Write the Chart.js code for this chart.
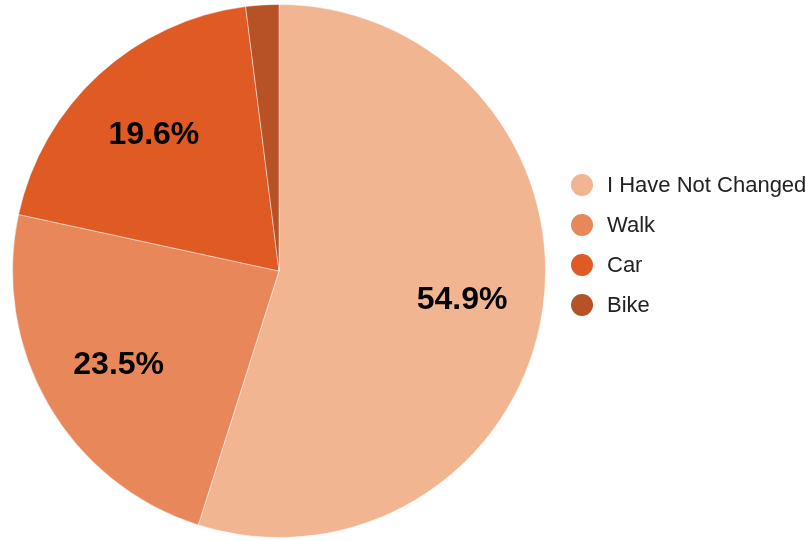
<!DOCTYPE html>
<html>
<head>
<meta charset="utf-8">
<title>Travel mode change</title>
<script src="https://cdn.jsdelivr.net/npm/chart.js@4.4.1/dist/chart.umd.min.js"></script>
<style>
  html, body { margin: 0; padding: 0; background: #ffffff; }
  #wrap { width: 806px; height: 541px; position: relative; }
</style>
</head>
<body>
<div id="wrap"><canvas id="chart" width="806" height="541"></canvas></div>
<script>
// Responses: how people changed the way they travel
const categories = ['I Have Not Changed', 'Walk', 'Car', 'Bike'];
const shares = [54.9, 23.5, 19.6, 2.0];
const sliceColors = ['#F2B592', '#E8885A', '#E05A24', '#B65226'];
// Slices smaller than this don't get a value label
const minLabelShare = 5;

// Percentage labels drawn inside each slice
const sliceLabels = {
  id: 'sliceLabels',
  afterDatasetsDraw(chart) {
    const { ctx } = chart;
    const meta = chart.getDatasetMeta(0);
    const values = chart.data.datasets[0].data;
    ctx.save();
    ctx.font = 'bold 32px "Liberation Sans", Arial, sans-serif';
    ctx.fillStyle = '#000000';
    ctx.textAlign = 'center';
    ctx.textBaseline = 'middle';
    meta.data.forEach((arc, i) => {
      if (values[i] < minLabelShare) return;
      const p = arc.getProps(['x', 'y', 'startAngle', 'endAngle', 'outerRadius'], true);
      const mid = (p.startAngle + p.endAngle) / 2;
      const r = p.outerRadius * 0.695;
      ctx.fillText(values[i].toFixed(1) + '%', p.x + Math.cos(mid) * r, p.y + Math.sin(mid) * r + 1);
    });
    ctx.restore();
  }
};

// Legend on the right: round swatches with category names
const sideLegend = {
  id: 'sideLegend',
  afterDraw(chart) {
    const { ctx } = chart;
    const x0 = 582, y0 = 185, step = 40, rad = 11;
    ctx.save();
    ctx.font = '22px "Liberation Sans", Arial, sans-serif';
    ctx.textAlign = 'left';
    ctx.textBaseline = 'middle';
    chart.data.labels.forEach((label, i) => {
      const y = y0 + i * step;
      ctx.beginPath();
      ctx.arc(x0, y, rad, 0, Math.PI * 2);
      ctx.fillStyle = chart.data.datasets[0].backgroundColor[i];
      ctx.fill();
      ctx.fillStyle = '#222222';
      ctx.fillText(label, 607, y + 1);
    });
    ctx.restore();
  }
};

new Chart(document.getElementById('chart'), {
  type: 'pie',
  data: {
    labels: categories,
    datasets: [{
      data: shares,
      backgroundColor: sliceColors,
      borderColor: 'rgba(255,255,255,0.45)',
      borderWidth: 1
    }]
  },
  options: {
    responsive: false,
    animation: false,
    layout: { padding: { left: 12, top: 4, right: 260, bottom: 3 } },
    plugins: {
      legend: { display: false },
      tooltip: { enabled: false }
    }
  },
  plugins: [sliceLabels, sideLegend]
});
</script>
</body>
</html>
